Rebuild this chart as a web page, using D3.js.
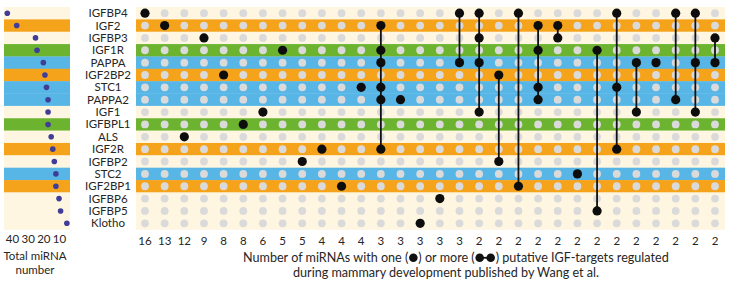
<!DOCTYPE html>
<html>
<head>
<meta charset="UTF-8">
<title>IGF targets of miRNAs</title>
<script src="https://d3js.org/d3.v7.min.js"></script>
<style>
  body { margin: 0; background: #fff; }
  text { font-family: Lato, "Open Sans", sans-serif; fill: #262626; }
</style>
</head>
<body>
<script>
const genes = ["IGFBP4", "IGF2", "IGFBP3", "IGF1R", "PAPPA", "IGF2BP2", "STC1", "PAPPA2", "IGF1",
  "IGFBPL1", "ALS", "IGF2R", "IGFBP2", "STC2", "IGF2BP1", "IGFBP6", "IGFBP5", "Klotho"];
const rowGroups = ["none", "A", "none", "B", "C", "A", "C", "C", "none",
  "B", "none", "A", "none", "C", "A", "none", "none", "none"];
const totals = [43, 37, 25, 24, 20, 19, 18, 17, 17, 17, 15, 14, 13, 12, 12, 10, 9, 5];
const totalTicks = [40, 30, 20, 10];

// miRNA count per target combination (bottom labels)
const setCounts = [16, 13, 12, 9, 8, 8, 6, 5, 5, 4, 4, 4, 3, 3, 3, 3, 3,
  2, 2, 2, 2, 2, 2, 2, 2, 2, 2, 2, 2, 2];
const sets = [
  ["IGFBP4"], ["IGF2"], ["ALS"], ["IGFBP3"], ["IGF2BP2"], ["IGFBPL1"], ["IGF1"], ["IGF1R"],
  ["IGFBP2"], ["IGF2R"], ["IGF2BP1"], ["STC1"],
  ["IGF2", "IGF1R", "PAPPA", "STC1", "PAPPA2", "IGF2R"],
  ["PAPPA2"], ["Klotho"], ["IGFBP6"],
  ["IGFBP4", "PAPPA"],
  ["IGFBP4", "IGFBP3", "PAPPA", "IGF1"],
  ["IGF2BP2", "IGFBP2"],
  ["IGFBP4", "IGF2BP1"],
  ["IGF2", "IGF1R", "STC1", "PAPPA2"],
  ["IGF2", "IGFBP3"],
  ["STC2"],
  ["IGF1R", "IGFBP5"],
  ["IGFBP4", "STC1", "IGF2R"],
  ["PAPPA", "IGF1"],
  ["PAPPA"],
  ["IGFBP4", "PAPPA2"],
  ["IGFBP4", "PAPPA", "IGF1"],
  ["IGFBP3", "PAPPA"]
];

const width = 729, height = 281;
const svg = d3.select("body").append("svg")
  .attr("width", width).attr("height", height);

const y = d3.scaleBand().domain(genes).range([7, 229.5]);
const cy = g => y(g) + y.bandwidth() / 2;
const x = d3.scalePoint().domain(d3.range(sets.length)).range([145, 715]);
const xTotal = d3.scaleLinear().domain([0, 40]).range([74.7, 12]);
const bandFill = d3.scaleOrdinal()
  .domain(["none", "A", "B", "C"])
  .range(["#fef6e1", "#f6a31c", "#6cb42f", "#57b6e6"]);

// left panel: total miRNA number
const left = svg.append("g");
left.selectAll("rect").data(genes).join("rect")
  .attr("x", 4).attr("width", 66)
  .attr("y", d => y(d)).attr("height", y.bandwidth() + 0.3)
  .attr("fill", (d, i) => bandFill(rowGroups[i]));
left.selectAll("circle").data(genes).join("circle")
  .attr("cx", (d, i) => xTotal(totals[i]))
  .attr("cy", d => cy(d))
  .attr("r", 2.8)
  .attr("fill", "#3f3d98");

const axis = svg.append("g")
  .attr("transform", "translate(0,235)")
  .call(d3.axisBottom(xTotal).tickValues(totalTicks).tickSize(0).tickPadding(0));
axis.select(".domain").remove();
axis.selectAll("text").attr("font-size", 11.5).attr("fill", "#262626")
  .style("font-family", "Lato, sans-serif");

svg.append("text").attr("x", 35).attr("y", 260).attr("text-anchor", "middle")
  .attr("font-size", 11.5).text("Total miRNA");
svg.append("text").attr("x", 35).attr("y", 274).attr("text-anchor", "middle")
  .attr("font-size", 11.5).text("number");

// gene labels
svg.append("g").selectAll("text").data(genes).join("text")
  .attr("x", 108).attr("y", d => cy(d))
  .attr("dy", "0.35em").attr("text-anchor", "middle")
  .attr("font-size", 11.5)
  .text(d => d);

// right panel: bands
svg.append("g").selectAll("rect").data(genes).join("rect")
  .attr("x", 136).attr("width", 589)
  .attr("y", d => y(d)).attr("height", y.bandwidth() + 0.3)
  .attr("fill", (d, i) => bandFill(rowGroups[i]));

// grey grid dots
const grid = svg.append("g");
sets.forEach((s, i) => {
  grid.selectAll(null).data(genes).join("circle")
    .attr("cx", x(i)).attr("cy", d => cy(d))
    .attr("r", 3.9).attr("fill", "#dadada");
});

// connecting lines and target dots
const cols = svg.append("g").selectAll("g").data(sets).join("g")
  .attr("transform", (d, i) => `translate(${x(i)},0)`);
cols.filter(d => d.length > 1).append("line")
  .attr("y1", d => d3.min(d, cy)).attr("y2", d => d3.max(d, cy))
  .attr("stroke", "#111").attr("stroke-width", 1.8);
cols.selectAll("circle").data(d => d).join("circle")
  .attr("cy", cy).attr("r", 4.6).attr("fill", "#0d0d0d");

// count labels
svg.append("g").selectAll("text").data(setCounts).join("text")
  .attr("x", (d, i) => x(i)).attr("y", 245)
  .attr("text-anchor", "middle").attr("font-size", 11.5)
  .text(d => d);

// caption with inline legend glyphs
const cap = svg.append("g");
const fs = 12.6;
let cx0 = 243;
const ly = 262;
function part(str) {
  const t = cap.append("text").attr("x", cx0).attr("y", ly).attr("font-size", fs).text(str);
  cx0 += t.node().getComputedTextLength();
}
part("Number of miRNAs with one (");
cap.append("circle").attr("cx", cx0 + 5).attr("cy", ly - 4.2).attr("r", 4.3).attr("fill", "#111");
cx0 += 10;
part(") or more (");
cap.append("line").attr("x1", cx0 + 5).attr("x2", cx0 + 16).attr("y1", ly - 4.2).attr("y2", ly - 4.2)
  .attr("stroke", "#111").attr("stroke-width", 1.8);
cap.append("circle").attr("cx", cx0 + 5).attr("cy", ly - 4.2).attr("r", 4.3).attr("fill", "#111");
cap.append("circle").attr("cx", cx0 + 16).attr("cy", ly - 4.2).attr("r", 4.3).attr("fill", "#111");
cx0 += 21;
part(") putative IGF-targets regulated");
cap.append("text").attr("x", 293).attr("y", 277).attr("font-size", fs)
  .text("during mammary development published by Wang et al.");
</script>
</body>
</html>
